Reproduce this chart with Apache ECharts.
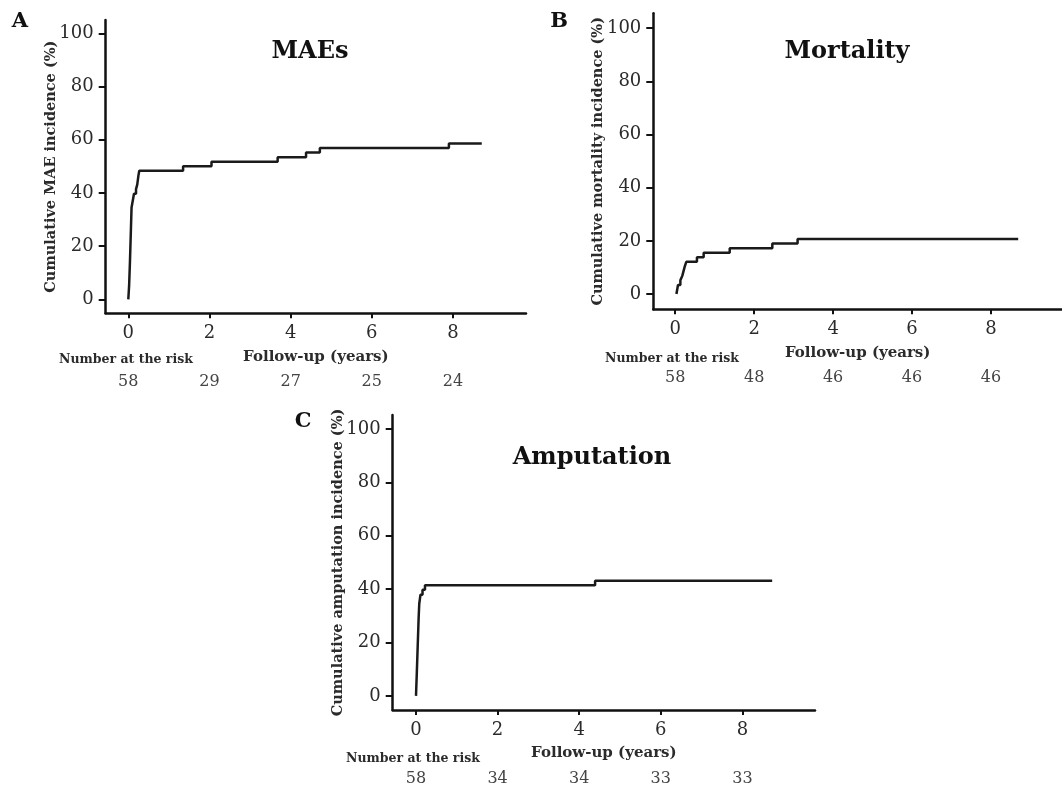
<!DOCTYPE html>
<html>
<head>
<meta charset="utf-8">
<script src="https://cdn.jsdelivr.net/npm/echarts@6/dist/echarts.min.js"></script>
<style>
  html, body { margin: 0; padding: 0; background: #fff; }
  #chart { width: 1062px; height: 791px; }
</style>
</head>
<body>
<div id="chart"></div>
<script>
// ---- data ----
const xTicks = [0, 2, 4, 6, 8];
const yTicks = [0, 20, 40, 60, 80, 100];

const maeTime      = [0, 0.02, 0.04, 0.06, 0.08, 0.10, 0.14, 0.19, 0.22, 0.25, 0.27, 1.35, 2.05, 3.68, 4.38, 4.72, 7.90, 8.71];
const maeIncidence = [0, 5.2, 13.8, 24.1, 34.5, 36.2, 39.7, 41.4, 43.1, 46.6, 48.3, 50.0, 51.7, 53.4, 55.2, 56.9, 58.6, 58.6];

const mortTime      = [0.03, 0.07, 0.13, 0.18, 0.21, 0.24, 0.28, 0.55, 0.72, 1.38, 2.46, 3.10, 8.69];
const mortIncidence = [0, 3.4, 5.2, 6.9, 8.6, 10.3, 12.1, 13.8, 15.5, 17.2, 19.0, 20.7, 20.7];

const ampTime      = [0, 0.02, 0.035, 0.05, 0.065, 0.08, 0.11, 0.16, 0.22, 4.39, 8.73];
const ampIncidence = [0, 8.6, 15.5, 22.4, 29.3, 34.5, 37.9, 39.7, 41.4, 43.1, 43.1];

const riskA = [58, 29, 27, 25, 24];
const riskB = [58, 48, 46, 46, 46];
const riskC = [58, 34, 34, 33, 33];

const panelTitles = ['MAEs', 'Mortality', 'Amputation'];
const yNames = ['Cumulative MAE incidence (%)', 'Cumulative mortality incidence (%)', 'Cumulative amputation incidence (%)'];
const xName = 'Follow-up (years)';
const riskLabel = 'Number at the risk';

// ---- styling / layout ----
const FONT = 'DejaVu Serif';
const AXIS_COLOR = '#111';
const TEXT_COLOR = '#2b2b2b';

const panels = [
  { grid: { left: 105.7, top: 20, width: 420.3, height: 293.3 }, x: [-0.557, 9.8], y: [-5.26, 105.0],
    time: maeTime, val: maeIncidence, risk: riskA, yGap: 47 },
  { grid: { left: 653.3, top: 13.3, width: 417, height: 296 }, x: [-0.556, 9.8], y: [-5.76, 105.6],
    time: mortTime, val: mortIncidence, risk: riskB, yGap: 48 },
  { grid: { left: 392.7, top: 415, width: 422.3, height: 295 }, x: [-0.571, 9.78], y: [-5.3, 105.2],
    time: ampTime, val: ampIncidence, risk: riskC, yGap: 47 }
];

const grids = [], xAxes = [], yAxes = [], series = [];
panels.forEach((p, i) => {
  grids.push(Object.assign({ containLabel: false }, p.grid));
  // main x axis
  xAxes.push({
    type: 'value', gridIndex: i, min: p.x[0], max: p.x[1], position: 'bottom',
    splitLine: { show: false },
    axisLine: { show: true, onZero: false, lineStyle: { color: AXIS_COLOR, width: 2.5 } },
    axisTick: { show: true, customValues: xTicks, length: 5, lineStyle: { color: AXIS_COLOR, width: 2 } },
    axisLabel: { customValues: xTicks, margin: 11, fontFamily: FONT, fontSize: 18, color: TEXT_COLOR },
    name: xName, nameLocation: 'middle', nameGap: 36, nameMoveOverlap: false,
    nameTextStyle: { fontFamily: FONT, fontWeight: 'bold', fontSize: 15, color: TEXT_COLOR }
  });
  // risk-table axis (labels only)
  const risk = p.risk;
  xAxes.push({
    type: 'value', gridIndex: i, min: p.x[0], max: p.x[1], position: 'bottom', offset: 60,
    splitLine: { show: false },
    axisLine: { show: false, onZero: false },
    axisTick: { show: false },
    axisLabel: { customValues: xTicks, margin: 1, fontFamily: FONT, fontSize: 16, color: '#444',
      formatter: v => String(risk[xTicks.indexOf(v)]) }
  });
  yAxes.push({
    type: 'value', gridIndex: i, min: p.y[0], max: p.y[1],
    splitLine: { show: false },
    axisLine: { show: true, onZero: false, lineStyle: { color: AXIS_COLOR, width: 2.5 } },
    axisTick: { show: true, customValues: yTicks, length: 7, lineStyle: { color: AXIS_COLOR, width: 2 } },
    axisLabel: { customValues: yTicks, margin: 12, fontFamily: FONT, fontSize: 18, color: TEXT_COLOR },
    name: yNames[i], nameLocation: 'middle', nameGap: p.yGap, nameMoveOverlap: false,
    nameTextStyle: { fontFamily: FONT, fontWeight: 'bold', fontSize: 14.5, color: TEXT_COLOR }
  });
  series.push({
    type: 'line', xAxisIndex: i * 2, yAxisIndex: i, step: 'end', showSymbol: false, symbol: 'none',
    lineStyle: { color: '#1a1a1a', width: 2.5 },
    data: p.time.map((t, k) => [t, p.val[k]]),
    animation: false
  });
});

const txt = (x, y, text, size, bold, color) => ({
  type: 'text', x: x, y: y,
  style: { text: text, fontFamily: FONT, fontSize: size, fontWeight: bold ? 'bold' : 'normal',
    fill: color || '#111', align: 'center', verticalAlign: 'middle' }
});

const graphics = [
  txt(20, 22, 'A', 21, true),
  txt(559, 22, 'B', 21, true),
  txt(303, 422, 'C', 21, true),
  txt(310, 52, panelTitles[0], 24, true),
  txt(847, 52, panelTitles[1], 24, true),
  txt(592, 458, panelTitles[2], 24, true),
  txt(126, 360, riskLabel, 12.5, true, TEXT_COLOR),
  txt(672, 359, riskLabel, 12.5, true, TEXT_COLOR),
  txt(413, 759, riskLabel, 12.5, true, TEXT_COLOR)
];

const chart = echarts.init(document.getElementById('chart'), null, { renderer: 'canvas' });
chart.setOption({
  animation: false,
  backgroundColor: '#fff',
  grid: grids,
  xAxis: xAxes,
  yAxis: yAxes,
  series: series,
  graphic: graphics
});
</script>
</body>
</html>
